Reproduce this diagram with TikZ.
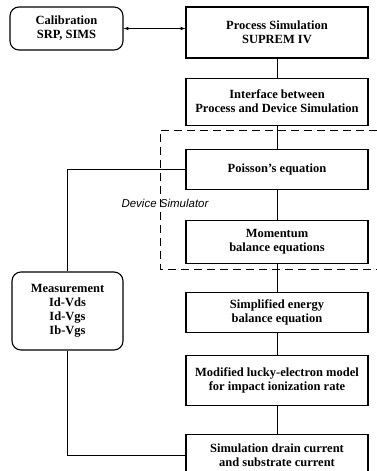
\documentclass[tikz,border=0pt]{standalone}
\usepackage{fontspec}
\setmainfont{Liberation Serif}
\newfontfamily\labelfont{Liberation Sans}
\usetikzlibrary{arrows}

\begin{document}
\begin{tikzpicture}[x=1pt,y=1pt,line width=0.7pt,
  box/.style={rectangle,draw,line width=1.1pt,minimum width=182pt,align=center,
    inner sep=1pt,font=\fontsize{12.5}{14}\selectfont\bfseries},
  rbox/.style={rectangle,rounded corners=9pt,draw,line width=1.1pt,align=center,
    inner sep=1pt,font=\fontsize{12.5}{14}\selectfont\bfseries}]
\useasboundingbox (0,0) rectangle (377,-471);

\node [box,minimum height=51pt] (proc) at (277,-32.5) {Process Simulation\\SUPREM IV};
\node [rbox,minimum width=113pt,minimum height=43pt] (calib) at (66.5,-28.5) {Calibration\\SRP, SIMS};
\node [box,minimum height=47pt,below=19pt,at=(proc.south)] (iface) {Interface between\\Process and Device Simulation};
\node [box,minimum height=40pt,below=23pt,at=(iface.south)] (poisson) {Poisson's equation};
\node [box,minimum height=43pt,below=30pt,at=(poisson.south)] (momentum) {Momentum\\balance equations};
\node [box,minimum height=40pt,below=28pt,at=(momentum.south)] (energy) {Simplified energy\\balance equation};
\node [box,minimum height=50pt,below=22pt,at=(energy.south)] (lucky) {Modified lucky-electron model\\for impact ionization rate};
\node [box,minimum height=42pt,below=28pt,at=(lucky.south)] (current) {Simulation drain current\\and substrate current};
\node [rbox,minimum width=111pt,minimum height=78pt] (meas) at (67.5,-311) {Measurement\\Id-Vds\\Id-Vgs\\Ib-Vgs};

% device simulator frame
\coordinate (dstl) at (160,-130);
\coordinate (dsbl) at (160,-269);
\draw [dashed,dash pattern=on 8pt off 5pt] (390,-130) -- (dstl) -- (dsbl) -- (390,-269);
\node [font=\labelfont\itshape\fontsize{11.5}{13}\selectfont,anchor=center] (dslabel) at (165,-203) {Device Simulator};

\draw [latex-latex] (calib.east) -- (calib.east -| proc.west);
\draw [-] (proc) -- (iface);
\draw [-] (iface) -- (poisson);
\draw [-] (poisson) -- (momentum);
\draw [-] (momentum) -- (energy);
\draw [-] (energy) -- (lucky);
\draw [-] (lucky) -- (current);
\draw [-] (meas.north) |- (poisson.west);
\draw [-] (meas.south) |- (current.west);
\end{tikzpicture}
\end{document}
